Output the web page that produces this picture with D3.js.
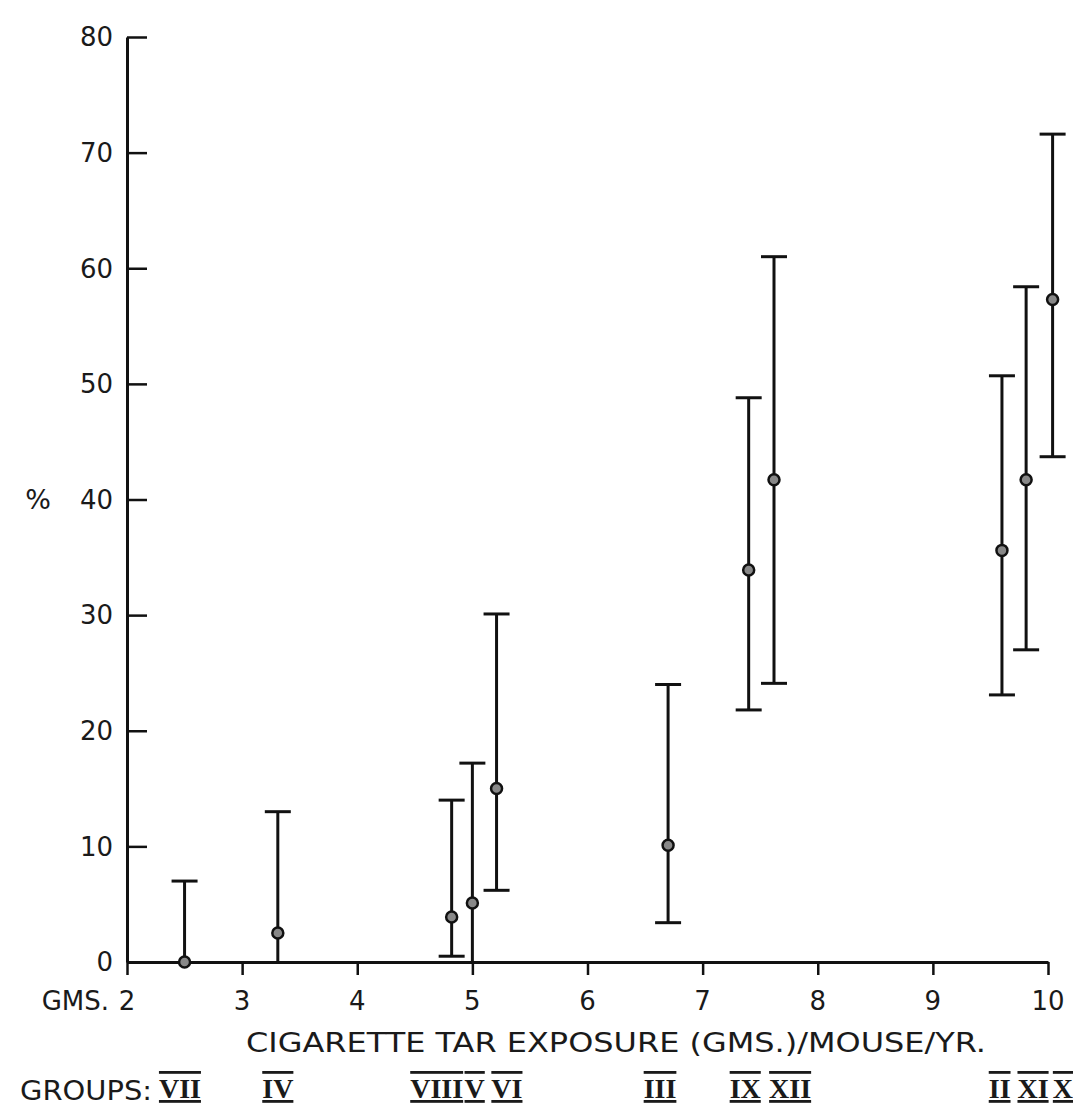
<!DOCTYPE html>
<html>
<head>
<meta charset="utf-8">
<script src="https://cdn.jsdelivr.net/npm/d3@7"></script>
<style>
  body { margin: 0; background: #fff; }
  svg { display: block; }
  text { font-family: "DejaVu Sans", sans-serif; fill: #1a1a1a; }
  .roman { font-family: "Liberation Serif", "DejaVu Serif", serif; font-weight: bold; }
</style>
</head>
<body>
<div id="chart"></div>
<script>
// groups, tar exposure (gms/mouse/yr) and % with upper/lower limits
let groups = ["VII", "IV", "VIII", "V", "VI", "III", "IX", "XII", "II", "XI", "X"];
let exposure = [2.5, 3.31, 4.82, 5.0, 5.21, 6.7, 7.4, 7.62, 9.6, 9.81, 10.04];
let percent = [0, 2.5, 3.9, 5.1, 15.0, 10.1, 33.9, 41.7, 35.6, 41.7, 57.3];
let upper = [7.0, 13.0, 14.0, 17.2, 30.1, 24.0, 48.8, 61.0, 50.7, 58.4, 71.6];
let lower = [0, 0, 0.5, 0, 6.2, 3.4, 21.8, 24.1, 23.1, 27.0, 43.7];
let groupLabelX = [2.46, 3.31, 4.69, 5.02, 5.3, 6.63, 7.37, 7.76, 9.58, 9.87, 10.13];

let xTicks = [2, 3, 4, 5, 6, 7, 8, 9, 10];
let yTicks = [0, 10, 20, 30, 40, 50, 60, 70, 80];

let svgWidth = 1073;
let svgHeight = 1109;

let margin = { top: 37, right: 25, bottom: 147, left: 127 };

let x = d3.scaleLinear()
  .domain([2, 10])
  .range([margin.left, 1048]);

let y = d3.scaleLinear()
  .domain([0, 80])
  .range([svgHeight - margin.bottom, margin.top]);

let svg = d3.select("#chart")
  .append("svg")
  .attr("width", svgWidth)
  .attr("height", svgHeight);

svg.append("rect")
  .attr("width", svgWidth)
  .attr("height", svgHeight)
  .attr("fill", "#fff");

// y axis, ticks pointing inward
let yAxis = svg.append("g")
  .attr("transform", "translate(" + margin.left + ",0)")
  .call(d3.axisRight(y).tickValues(yTicks).tickSize(20).tickSizeOuter(0).tickFormat(""));

yAxis.select(".domain").attr("stroke", "#111").attr("stroke-width", 3);
yAxis.selectAll(".tick line").attr("stroke", "#111").attr("stroke-width", 2.5);

svg.append("g").selectAll("text")
  .data(yTicks)
  .enter()
  .append("text")
    .attr("x", margin.left - 14)
    .attr("y", d => y(d))
    .attr("dy", "0.36em")
    .attr("text-anchor", "end")
    .attr("font-size", 26)
    .text(d => d);

svg.append("text")
  .attr("x", 38)
  .attr("y", y(40))
  .attr("dy", "0.36em")
  .attr("text-anchor", "middle")
  .attr("font-size", 27)
  .text("%");

// x axis, ticks pointing down
let xAxis = svg.append("g")
  .attr("transform", "translate(0," + y(0) + ")")
  .call(d3.axisBottom(x).tickValues(xTicks).tickSize(13).tickSizeOuter(0).tickFormat(""));

xAxis.select(".domain").attr("stroke", "#111").attr("stroke-width", 3);
xAxis.selectAll(".tick line").attr("stroke", "#111").attr("stroke-width", 2.5);

svg.append("g").selectAll("text")
  .data(xTicks)
  .enter()
  .append("text")
    .attr("x", d => x(d))
    .attr("y", y(0) + 48)
    .attr("text-anchor", "middle")
    .attr("font-size", 26)
    .text(d => d);

svg.append("text")
  .attr("x", x(2) - 18)
  .attr("y", y(0) + 48)
  .attr("text-anchor", "end")
  .attr("font-size", 26)
  .text("GMS.");

svg.append("text")
  .attr("x", 246)
  .attr("y", y(0) + 90)
  .attr("textLength", 740)
  .attr("lengthAdjust", "spacingAndGlyphs")
  .attr("font-size", 26)
  .text("CIGARETTE TAR EXPOSURE (GMS.)/MOUSE/YR.");

svg.append("text")
  .attr("x", 20)
  .attr("y", 1100)
  .attr("textLength", 132)
  .attr("lengthAdjust", "spacingAndGlyphs")
  .attr("font-size", 26)
  .text("GROUPS:");

svg.append("g").selectAll("text")
  .data(groups)
  .enter()
  .append("text")
    .attr("class", "roman")
    .attr("x", (d, i) => x(groupLabelX[i]))
    .attr("y", 1098)
    .attr("text-anchor", "middle")
    .attr("font-size", 28)
    .attr("text-decoration", "underline overline")
    .text(d => d);

// error bars
let rows = groups.map((g, i) => ({
  group: g,
  x: exposure[i],
  p: percent[i],
  hi: upper[i],
  lo: lower[i]
}));

let bars = svg.append("g").attr("id", "bars");

bars.selectAll(".whisker")
  .data(rows)
  .enter()
  .append("line")
    .attr("class", "whisker")
    .attr("x1", d => x(d.x))
    .attr("x2", d => x(d.x))
    .attr("y1", d => y(d.lo))
    .attr("y2", d => y(d.hi))
    .attr("stroke", "#111")
    .attr("stroke-width", 3);

bars.selectAll(".capHi")
  .data(rows)
  .enter()
  .append("line")
    .attr("class", "capHi")
    .attr("x1", d => x(d.x) - 13)
    .attr("x2", d => x(d.x) + 13)
    .attr("y1", d => y(d.hi))
    .attr("y2", d => y(d.hi))
    .attr("stroke", "#111")
    .attr("stroke-width", 3);

bars.selectAll(".capLo")
  .data(rows.filter(d => d.lo > 0))
  .enter()
  .append("line")
    .attr("class", "capLo")
    .attr("x1", d => x(d.x) - 13)
    .attr("x2", d => x(d.x) + 13)
    .attr("y1", d => y(d.lo))
    .attr("y2", d => y(d.lo))
    .attr("stroke", "#111")
    .attr("stroke-width", 3);

bars.selectAll(".pt")
  .data(rows)
  .enter()
  .append("circle")
    .attr("class", "pt")
    .attr("cx", d => x(d.x))
    .attr("cy", d => y(d.p))
    .attr("r", 5.5)
    .attr("fill", "#888")
    .attr("stroke", "#111")
    .attr("stroke-width", 2.5);
</script>
</body>
</html>
